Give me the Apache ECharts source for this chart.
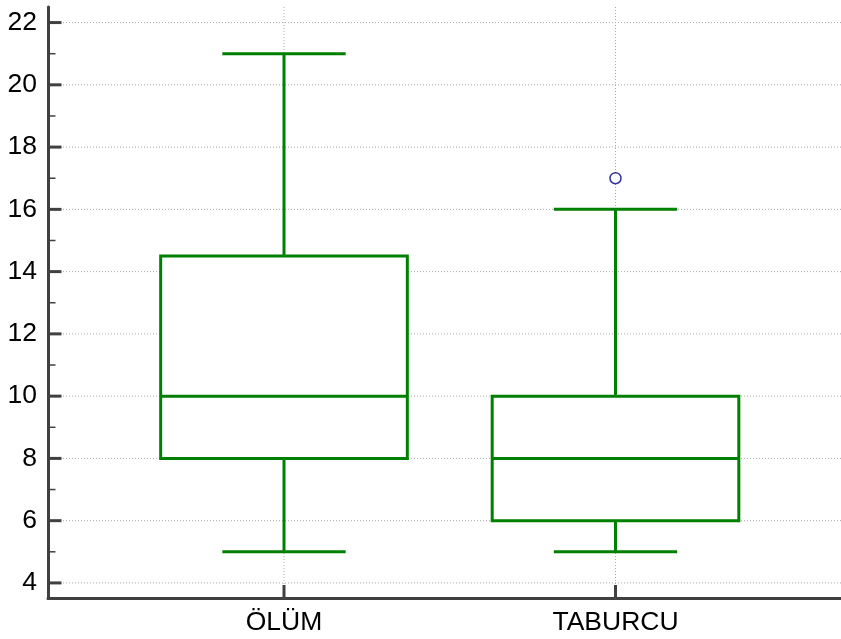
<!DOCTYPE html>
<html>
<head>
<meta charset="utf-8">
<script src="https://cdn.jsdelivr.net/npm/echarts@6/dist/echarts.min.js"></script>
<style>
  html, body { margin: 0; padding: 0; background: #fff; }
  #chart { width: 841px; height: 639px; }
</style>
</head>
<body>
<div id="chart"></div>
<script>
// Groups on the horizontal axis (positioned at 1, 2, ...)
const categories = ['ÖLÜM', 'TABURCU'];

// Five-number summaries per group
const lowWhisker  = [5, 5];
const q1Values    = [8, 6];
const medians     = [10, 8];
const q3Values    = [14.5, 10];
const highWhisker = [21, 16];

// Outliers as [groupIndex, value]
const outliers = [[1, 17]];

// Vertical axis ticks
const yMajorTicks = [4, 6, 8, 10, 12, 14, 16, 18, 20, 22];
const yMinorTicks = [5, 7, 9, 11, 13, 15, 17, 19, 21];

const GREEN = '#008000';
const AXIS = '#404040';
const GRIDC = '#a8a8a8';
const FONT = "'Liberation Sans', Arial, sans-serif";
const BOX_HALF = 0.372;   // half box width in x-axis units
const CAP_HALF = 0.186;   // half whisker-cap width

const xPositions = categories.map((_, i) => i + 1);
const boxData = categories.map((_, i) => [
  i + 1, lowWhisker[i], q1Values[i], medians[i], q3Values[i], highWhisker[i]
]);

const chart = echarts.init(document.getElementById('chart'), null, { renderer: 'canvas' });

function renderBox(params, api) {
  const x = api.value(0);
  const lo = api.value(1), q1 = api.value(2), md = api.value(3), q3 = api.value(4), hi = api.value(5);
  const P = (xx, yy) => api.coord([xx, yy]);
  const line = (a, b) => ({
    type: 'line',
    shape: { x1: a[0], y1: a[1], x2: b[0], y2: b[1] },
    style: { stroke: GREEN, lineWidth: 3, lineCap: 'butt' }
  });
  const tl = P(x - BOX_HALF, q3), br = P(x + BOX_HALF, q1);
  return {
    type: 'group',
    children: [
      line(P(x, q1), P(x, lo)),
      line(P(x, q3), P(x, hi)),
      line(P(x - CAP_HALF, lo), P(x + CAP_HALF, lo)),
      line(P(x - CAP_HALF, hi), P(x + CAP_HALF, hi)),
      {
        type: 'rect',
        shape: { x: tl[0], y: tl[1], width: br[0] - tl[0], height: br[1] - tl[1] },
        style: { fill: '#ffffff', stroke: GREEN, lineWidth: 3 }
      },
      line(P(x - BOX_HALF, md), P(x + BOX_HALF, md))
    ]
  };
}

// Dotted grid lines across the plot area
function renderHGrid(params, api) {
  const cs = params.coordSys;
  const p = api.coord([1, api.value(1)]);
  return {
    type: 'line',
    shape: { x1: cs.x, y1: p[1], x2: cs.x + cs.width, y2: p[1] },
    style: { stroke: GRIDC, lineWidth: 1, lineDash: [1, 2] }
  };
}

function renderVGrid(params, api) {
  const cs = params.coordSys;
  const p = api.coord([api.value(0), 10]);
  return {
    type: 'line',
    shape: { x1: p[0], y1: cs.y, x2: p[0], y2: cs.y + cs.height },
    style: { stroke: GRIDC, lineWidth: 1, lineDash: [1, 2] }
  };
}

// Inward tick marks: kind 0 = major y, 1 = minor y, 2 = x
function renderTick(params, api) {
  const cs = params.coordSys;
  const kind = api.value(2);
  if (kind === 2) {
    const p = api.coord([api.value(0), 10]);
    const yb = cs.y + cs.height;
    return {
      type: 'line',
      shape: { x1: p[0], y1: yb, x2: p[0], y2: yb - 13.5 },
      style: { stroke: AXIS, lineWidth: 3 }
    };
  }
  const p = api.coord([1, api.value(1)]);
  const len = kind === 0 ? 13.5 : 7.5;
  return {
    type: 'line',
    shape: { x1: cs.x, y1: p[1], x2: cs.x + len, y2: p[1] },
    style: { stroke: AXIS, lineWidth: kind === 0 ? 3 : 1.5 }
  };
}

const tickData = []
  .concat(yMajorTicks.map(v => [1, v, 0]))
  .concat(yMinorTicks.map(v => [1, v, 1]))
  .concat(xPositions.map(x => [x, 10, 2]));

const option = {
  backgroundColor: '#ffffff',
  animation: false,
  grid: { left: 48, right: 0, top: 7, bottom: 40.5, outerBoundsMode: 'none' },
  xAxis: {
    type: 'value',
    min: 1 - 236 / 331.5,
    max: 1 + 557 / 331.5,
    axisLine: { show: true, onZero: false, lineStyle: { color: AXIS, width: 3 } },
    axisTick: { show: false },
    axisLabel: {
      customValues: xPositions,
      margin: 11,
      color: '#000',
      fontSize: 26.5,
      fontFamily: FONT,
      formatter: v => categories[Math.round(v) - 1] || ''
    },
    splitLine: { show: false }
  },
  yAxis: {
    type: 'value',
    min: 3.5,
    max: 22.5,
    axisLine: { show: true, lineStyle: { color: AXIS, width: 3 } },
    axisTick: { show: false },
    axisLabel: { customValues: yMajorTicks, margin: 11, color: '#000',
                 fontSize: 26.5, fontFamily: FONT },
    splitLine: { show: false }
  },
  series: [
    {
      type: 'custom',
      name: 'hgrid',
      silent: true,
      z: 1,
      renderItem: renderHGrid,
      data: yMajorTicks.map(v => [1, v])
    },
    {
      type: 'custom',
      name: 'vgrid',
      silent: true,
      z: 1,
      renderItem: renderVGrid,
      data: xPositions.map(x => [x, 10])
    },
    {
      type: 'custom',
      name: 'boxes',
      z: 3,
      renderItem: renderBox,
      encode: { x: 0, y: [1, 2, 3, 4, 5] },
      data: boxData
    },
    {
      type: 'scatter',
      name: 'outliers',
      z: 4,
      symbol: 'circle',
      symbolSize: 11,
      itemStyle: { color: '#ffffff', borderColor: '#000080', borderWidth: 1.5 },
      data: outliers.map(o => [o[0] + 1, o[1]])
    },
    {
      type: 'custom',
      name: 'ticks',
      silent: true,
      z: 5,
      renderItem: renderTick,
      data: tickData
    }
  ]
};

chart.setOption(option);
</script>
</body>
</html>
